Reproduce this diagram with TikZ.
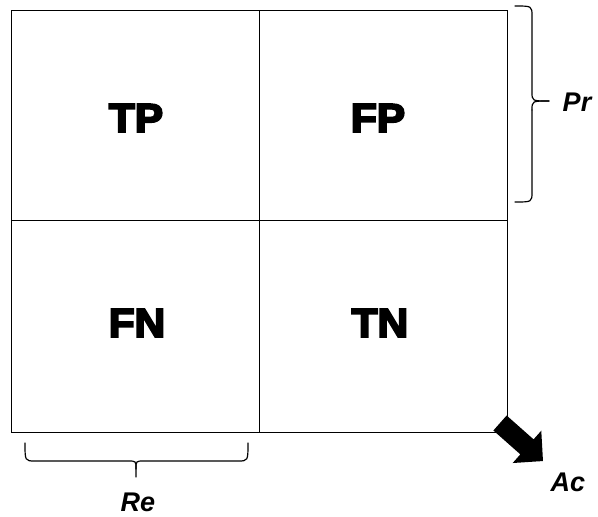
\documentclass[tikz,border=0pt]{standalone}
\usepackage{fontspec}
\setmainfont{Liberation Sans}
\newfontfamily\heavyfont[FakeBold=5,FakeStretch=1.06]{Liberation Sans Bold}
\begin{document}
\begin{tikzpicture}[x=1pt,y=-1pt,
  cell/.style={draw, line width=0.9pt, inner sep=0pt, anchor=north west},
  quad/.style={font=\heavyfont\fontsize{40}{40}\selectfont, inner sep=0pt},
  axis/.style={font=\bfseries\itshape\fontsize{27}{27}\selectfont, inner sep=0pt},
  bracket/.style={line width=1.2pt, line cap=round, line join=round}]
\useasboundingbox (0,0) rectangle (598,517);

% the four cells of the matrix
\node[cell, minimum width=248pt, minimum height=210pt] (tpcell) at (11,10) {};
\node[cell, minimum width=248pt, minimum height=210pt] (fpcell) at (259,10) {};
\node[cell, minimum width=248pt, minimum height=212pt] (fncell) at (11,220) {};
\node[cell, minimum width=248pt, minimum height=212pt] (tncell) at (259,220) {};

% cell labels
\node[quad] (tp) at (136,118) {TP};
\node[quad] (fp) at (378,118) {FP};
\node[quad] (fn) at (137,323) {FN};
\node[quad] (tn) at (380,323) {TN};

% brace along the top row
\draw[bracket] (515,6) .. controls (532,6) .. (532,16) -- (532,92)
  .. controls (532,101) .. (549,101);
\draw[bracket] (532,110) .. controls (532,101) .. (549,101);
\draw[bracket] (532,110) -- (532,192) .. controls (532,202) .. (515,202);
\node[axis] (pr) at (577,102) {Pr};

% brace below the left column
\draw[bracket] (25,443) .. controls (25,461) .. (35,461) -- (128,461)
  .. controls (136,461) .. (136,469) -- (136,477);
\draw[bracket] (136,469) .. controls (136,461) .. (144,461) -- (238,461)
  .. controls (248,461) .. (248,443);
\node[axis] (re) at (138,502) {Re};

% block arrow off the lower right corner
\begin{scope}[shift={(500,423)}, rotate=-41.5]
  \fill (0,-10) -- (36,-10) -- (36,-21.6) -- (57.4,0) -- (36,21.6)
    -- (36,10) -- (0,10) -- cycle;
\end{scope}
\node[axis] (ac) at (568,482) {Ac};
\end{tikzpicture}
\end{document}
